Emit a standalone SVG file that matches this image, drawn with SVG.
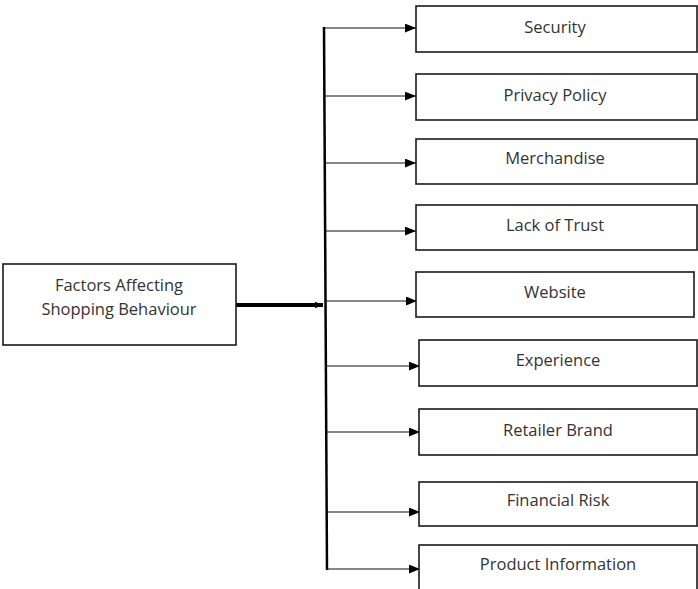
<svg xmlns="http://www.w3.org/2000/svg" width="698" height="589" viewBox="0 0 698 589">
<style>
.box{fill:#fff;stroke:#1a1a1a;stroke-width:1.6}
.t{font-family:"Open Sans","Liberation Sans",Arial,sans-serif;font-size:16.5px;fill:#333;text-anchor:middle}
.c{stroke:#111;stroke-width:1.2;fill:none}
</style>
<defs>
<marker id="ah" viewBox="0 0 10 8" refX="10" refY="4" markerWidth="11" markerHeight="9" markerUnits="userSpaceOnUse" orient="auto">
<path d="M0,0 L10,4 L0,8 Z" fill="#000"/>
</marker>
<marker id="ah2" viewBox="0 0 10 8" refX="10" refY="4" markerWidth="8" markerHeight="9" markerUnits="userSpaceOnUse" orient="auto">
<path d="M0,0 L10,4 L0,8 Z" fill="#000"/>
</marker>
</defs>
<rect width="698" height="589" fill="#fff"/>
<g id="connectors">
<line x1="236" y1="305" x2="323" y2="305" stroke="#000" stroke-width="4" marker-end="url(#ah2)"/>
<line x1="324" y1="27" x2="327" y2="570" stroke="#000" stroke-width="2.5"/>
<line class="c" x1="324" y1="28" x2="416" y2="28" marker-end="url(#ah)"/>
<line class="c" x1="324" y1="96" x2="416" y2="96" marker-end="url(#ah)"/>
<line class="c" x1="325" y1="163" x2="416" y2="163" marker-end="url(#ah)"/>
<line class="c" x1="325" y1="231" x2="416" y2="231" marker-end="url(#ah)"/>
<line class="c" x1="325" y1="301" x2="417" y2="301" marker-end="url(#ah)"/>
<line class="c" x1="326" y1="366" x2="420" y2="366" marker-end="url(#ah)"/>
<line class="c" x1="326" y1="432" x2="420" y2="432" marker-end="url(#ah)"/>
<line class="c" x1="326" y1="512" x2="420" y2="512" marker-end="url(#ah)"/>
<line class="c" x1="326" y1="569" x2="420" y2="569" marker-end="url(#ah)"/>
</g>
<g id="source"><rect class="box" x="3" y="264" width="233" height="81"/><text class="t" x="119" y="291">Factors Affecting</text><text class="t" x="119" y="315">Shopping Behaviour</text></g>
<g id="security"><rect class="box" x="416" y="6" width="281" height="46"/><text class="t" x="555" y="33">Security</text></g>
<g id="privacy"><rect class="box" x="416" y="74" width="281" height="46"/><text class="t" x="555" y="101">Privacy Policy</text></g>
<g id="merchandise"><rect class="box" x="416" y="139" width="281" height="45"/><text class="t" x="555" y="164">Merchandise</text></g>
<g id="trust"><rect class="box" x="416" y="205" width="281" height="45"/><text class="t" x="555" y="231">Lack of Trust</text></g>
<g id="website"><rect class="box" x="416" y="272" width="278" height="45"/><text class="t" x="555" y="298">Website</text></g>
<g id="experience"><rect class="box" x="419" y="340" width="278" height="46"/><text class="t" x="558" y="366">Experience</text></g>
<g id="retailer"><rect class="box" x="419" y="409" width="278" height="46"/><text class="t" x="558" y="436">Retailer Brand</text></g>
<g id="financial"><rect class="box" x="419" y="482" width="278" height="44"/><text class="t" x="558" y="506">Financial Risk</text></g>
<g id="product"><rect class="box" x="419" y="545" width="278" height="50"/><text class="t" x="558" y="570">Product Information</text></g>
</svg>
